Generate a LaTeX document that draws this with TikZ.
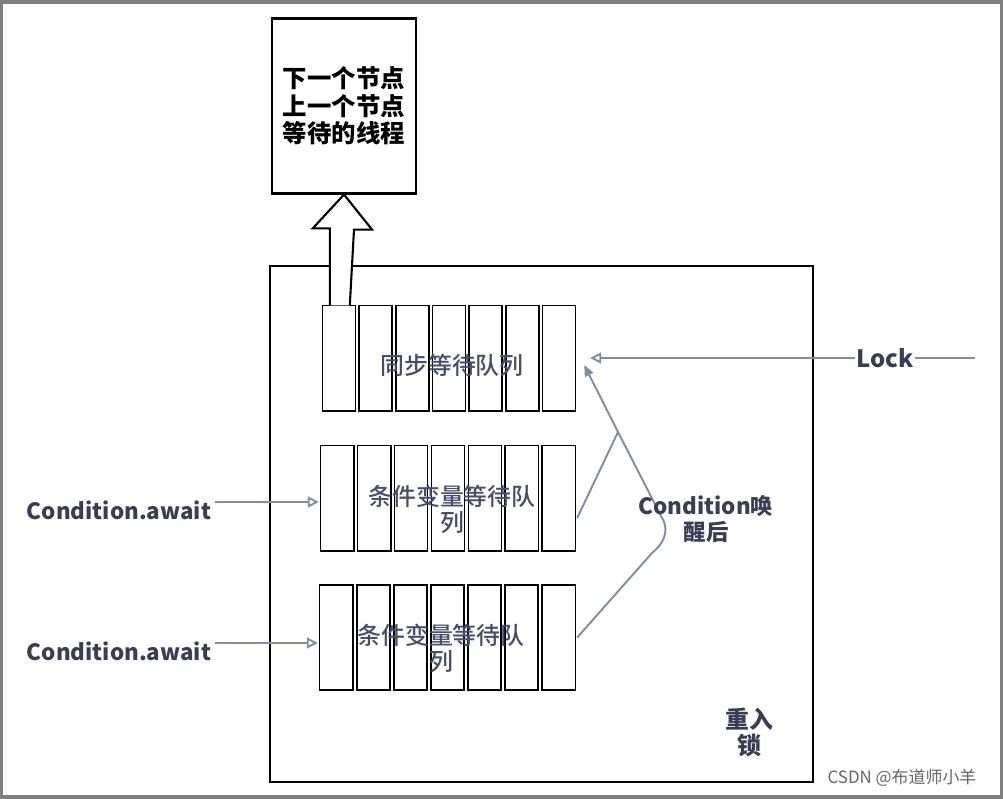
\documentclass[tikz,border=0pt]{standalone}
\usepackage{fontspec}
\setmainfont{Noto Sans CJK SC}
\newfontfamily\medfont{Noto Sans CJK SC Medium}
\usetikzlibrary{arrows.meta,calc}
\definecolor{flowcol}{RGB}{125,140,168}
\definecolor{labelcol}{RGB}{58,62,84}
\definecolor{queuecol}{RGB}{70,78,108}
\definecolor{framecol}{RGB}{128,128,128}
\begin{document}
\begin{tikzpicture}[x=1bp,y=-1bp,>={Triangle[open,length=11bp,width=11bp]},
  box/.style={draw,line width=2.1bp,inner sep=0pt},
  queue/.style={inner sep=0pt,minimum height=105bp},
  cell/.style={draw,line width=1.6bp},
  flow/.style={draw=flowcol,line width=1.9bp},
  lbl/.style={text=labelcol,font=\bfseries\fontsize{22.5}{27}\selectfont},
  qtext/.style={text=queuecol,font=\medfont\fontsize{24}{26}\selectfont,align=center},
]
  \useasboundingbox (0,0) rectangle (1003,799);
  % frame of the screenshot
  \fill[framecol] (0,0) rectangle (1003,799);
  \fill[white] (3,4) rectangle (1000,795);
%%
  % Node: node record
  \node[box,minimum width=144bp,minimum height=175bp,align=center,
        font=\bfseries\fontsize{24.5}{27.5}\selectfont] (record) at (344,106)
        {下一个节点\\上一个节点\\等待的线程};
  % Node: reentrant lock
  \node[box,minimum width=543bp,minimum height=516bp] (lockbox) at (541.5,524) {};
  \node[lbl,align=center,font=\bfseries\fontsize{24}{26}\selectfont] (locklbl) at (749,732) {重入\\锁};
  % Nodes: queues
  \node[queue,minimum width=256bp] (q1) at (449,358) {};
  \node[queue,minimum width=258bp] (q2) at (448,498) {};
  \node[queue,minimum width=259bp] (q3) at (447.5,637.5) {};
  \foreach \q in {q1,q2,q3}
    \foreach \i in {0,...,6}
      \draw[cell] ($(\q.north west)!{(\i+0.05)/7}!(\q.north east)$) rectangle
                  ($(\q.south west)!{(\i+0.95)/7}!(\q.south east)$);
  \node[qtext] (q1text) at (452,365) {同步等待队列};
  \node[qtext] (q2text) at (452,509) {条件变量等待队\\列};
  \node[qtext] (q3text) at (441,648) {条件变量等待队\\列};
  % Edge: q1 -> record (hollow arrow)
  \draw[line width=2.1bp,fill=white] ($(q1.north west)+(9,0)$) -- ++(0,-77) -- ++(-17,0)
        -- (record.south) -- ++(28,35) -- ++(-18,0) -- ($(q1.north west)+(29,0)$);
  % Edge: Lock -> q1
  \coordinate (lockin) at (975,358);
  \node[lbl,fill=white,inner sep=1pt,font=\bfseries\fontsize{24}{27}\selectfont] (lock) at (885,358) {Lock};
  \draw[flow] (lockin) -- (lock);
  \draw[flow,->] (lock) -- ([xshift=13bp]q1.east);
  % Edges: Condition.await -> q2, q3
  \node[lbl] (await1) at (119,510) {Condition.await};
  \node[lbl] (await2) at (119,651) {Condition.await};
  \draw[flow,->] ([yshift=8bp]await1.east) -- ([yshift=8bp]await1.east -| q2.west);
  \draw[flow,->] ([yshift=8bp]await2.east) -- ([yshift=8bp]await2.east -| q3.west);
  % Edges: q2, q3 -> q1 (Condition wake up)
  \coordinate (wake) at (618,432);
  \draw[flow] ([yshift=-20bp]q2.east) -- (wake);
  \draw[flow,-{Triangle[length=11bp,width=9bp]}] (q3.east) -- (652,553)
        .. controls (668,540) and (668,526) .. (661,516) -- (wake) -- ($(q1.east)+(7,7)$);
  \node[lbl,align=center,font=\bfseries\fontsize{22.5}{26}\selectfont] (wakelbl) at (706,519) {Condition唤\\醒后};
  % watermark
  \node[text=black!60,font=\fontsize{17}{20}\selectfont,inner sep=0pt] (mark) at (902,778) {CSDN @布道师小羊};
%
\end{tikzpicture}
\end{document}
